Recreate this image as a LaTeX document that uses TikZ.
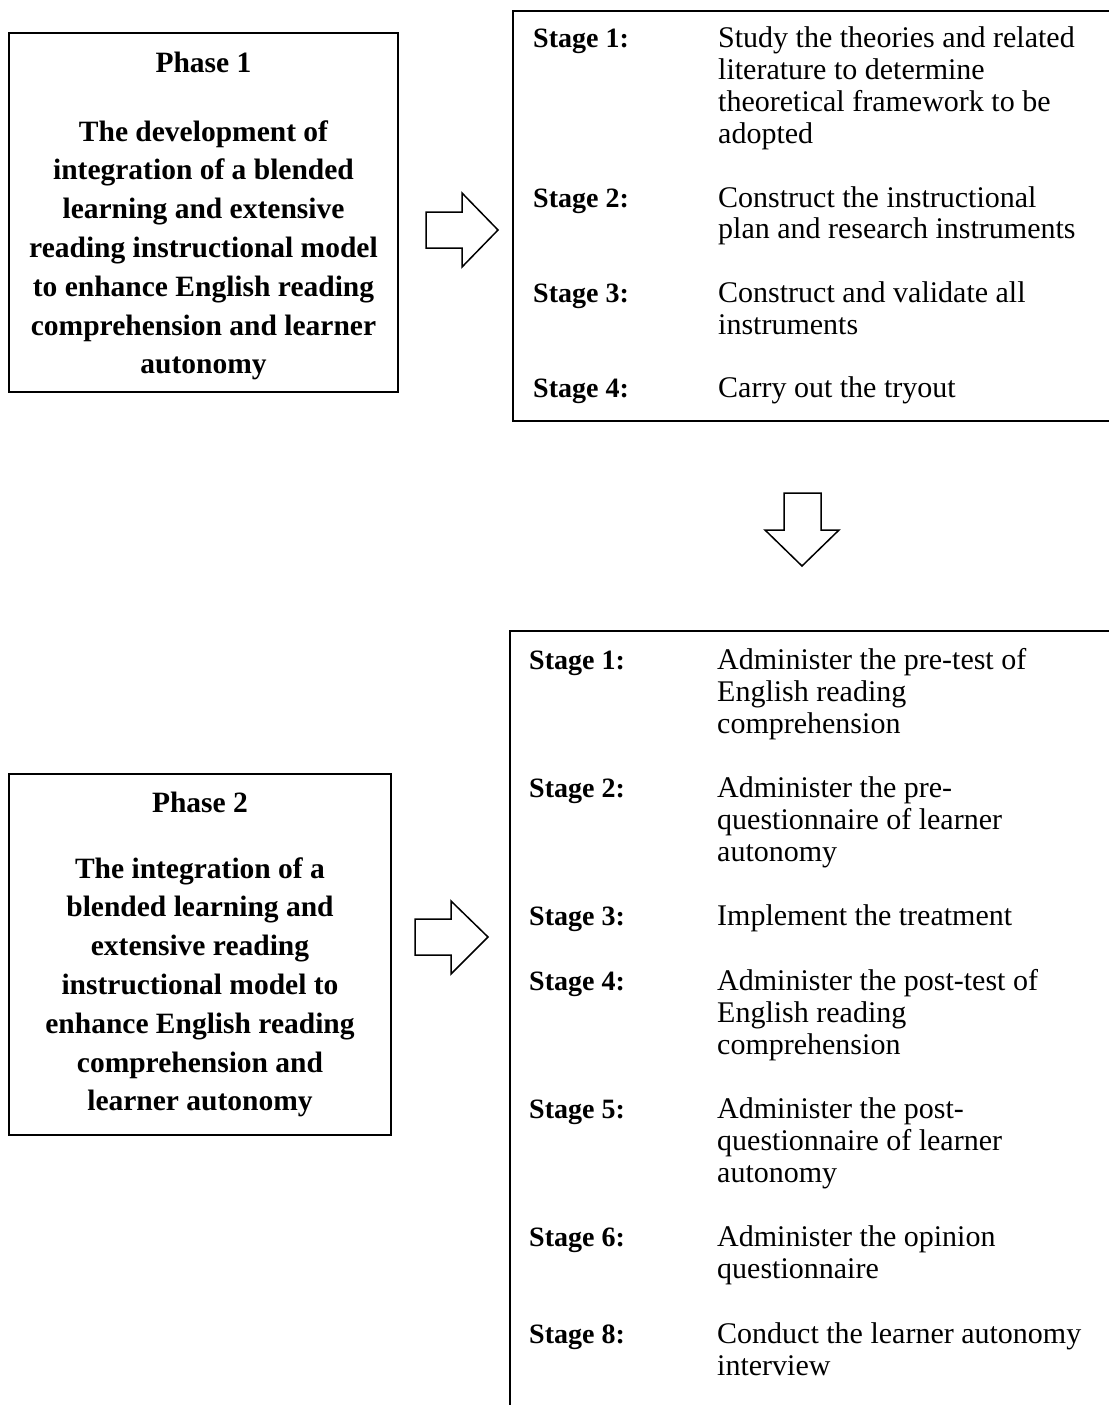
\documentclass[tikz,border=0pt]{standalone}
\usepackage{fontspec}
\setmainfont{Liberation Serif}
\tikzset{
  boxline/.style={draw=black, line width=2pt},
  arrowshape/.style={draw=black, line width=1.5pt, fill=white, line join=miter},
  phasetitle/.style={inner sep=0pt, anchor=base, font=\fontsize{29.5}{38.8}\selectfont\bfseries},
  phasebody/.style={inner sep=0pt, anchor=base},
  stagelabel/.style={inner sep=0pt, anchor=base west, font=\fontsize{28}{32}\selectfont\bfseries},
  stagedesc/.style={inner sep=0pt, anchor=base west},
}
\newcommand{\phbody}[1]{\parbox[t]{380pt}{\centering\fontsize{29.5}{38.8}\selectfont\bfseries #1}}
\newcommand{\stdescA}[1]{\parbox[t]{390pt}{\raggedright\fontsize{30}{31.8}\selectfont #1}}
\newcommand{\stdescB}[1]{\parbox[t]{390pt}{\raggedright\fontsize{30}{32.1}\selectfont #1}}
\begin{document}
\begin{tikzpicture}[x=1pt,y=-1pt]
\fill[white] (0,0) rectangle (1108,1405);
\useasboundingbox (0,0) rectangle (1108,1405);

% Phase 1 box
\node[boxline, minimum width=389pt, minimum height=359pt, inner sep=0pt] (p1box) at (203.5,212.5) {};
\node[phasetitle] (p1t) at (203.5,72) {Phase 1};
\node[phasebody] (p1b) at (203.5,141) {\phbody{The development of\\integration of a blended\\learning and extensive\\reading instructional model\\to enhance English reading\\comprehension and learner\\autonomy}};

% Phase 2 box
\node[boxline, minimum width=382pt, minimum height=361pt, inner sep=0pt] (p2box) at (200,954.5) {};
\node[phasetitle] (p2t) at (200,812) {Phase 2};
\node[phasebody] (p2b) at (200,878) {\phbody{The integration of a\\blended learning and\\extensive reading\\instructional model to\\enhance English reading\\comprehension and\\learner autonomy}};

% Top stage box (open on the right)
\coordinate (tbTL) at (513,11);
\coordinate (tbBL) at (513,421);
\draw[boxline] (1120,11) -- (tbTL) -- (tbBL) -- (1120,421);

\node[stagelabel] (a1) at (533,48) {Stage 1:};
\node[stagedesc] (a1d) at (718,48) {\stdescA{Study the theories and related\\literature to determine\\theoretical framework to be\\adopted}};
\node[stagelabel] (a2) at (533,207) {Stage 2:};
\node[stagedesc] (a2d) at (718,207) {\stdescA{Construct the instructional\\plan and research instruments}};
\node[stagelabel] (a3) at (533,302.4) {Stage 3:};
\node[stagedesc] (a3d) at (718,302.4) {\stdescA{Construct and validate all\\instruments}};
\node[stagelabel] (a4) at (533,397.8) {Stage 4:};
\node[stagedesc] (a4d) at (718,397.8) {\stdescA{Carry out the tryout}};

% Bottom stage box (open on the right and bottom)
\coordinate (bbTL) at (510,631);
\draw[boxline] (1120,631) -- (bbTL) -- (510,1420);

\node[stagelabel] (b1) at (529,669) {Stage 1:};
\node[stagedesc] (b1d) at (717,669) {\stdescB{Administer the pre-test of\\English reading\\comprehension}};
\node[stagelabel] (b2) at (529,797.4) {Stage 2:};
\node[stagedesc] (b2d) at (717,797.4) {\stdescB{Administer the pre-\\questionnaire of learner\\autonomy}};
\node[stagelabel] (b3) at (529,925.8) {Stage 3:};
\node[stagedesc] (b3d) at (717,925.8) {\stdescB{Implement the treatment}};
\node[stagelabel] (b4) at (529,990) {Stage 4:};
\node[stagedesc] (b4d) at (717,990) {\stdescB{Administer the post-test of\\English reading\\comprehension}};
\node[stagelabel] (b5) at (529,1118.4) {Stage 5:};
\node[stagedesc] (b5d) at (717,1118.4) {\stdescB{Administer the post-\\questionnaire of learner\\autonomy}};
\node[stagelabel] (b6) at (529,1246.8) {Stage 6:};
\node[stagedesc] (b6d) at (717,1246.8) {\stdescB{Administer the opinion\\questionnaire}};
\node[stagelabel] (b8) at (529,1343.1) {Stage 8:};
\node[stagedesc] (b8d) at (717,1343.1) {\stdescB{Conduct the learner autonomy\\interview}};

% Block arrows
\draw[arrowshape] (426,212) -- (462,212) -- (462,193) -- (498,230) -- (462,267) -- (462,248) -- (426,248) -- cycle;
\draw[arrowshape] (415,919) -- (451,919) -- (451,901) -- (488,937) -- (451,974) -- (451,955) -- (415,955) -- cycle;
\draw[arrowshape] (784,493) -- (821,493) -- (821,530) -- (839,530) -- (802,566) -- (765,530) -- (784,530) -- cycle;
\end{tikzpicture}
\end{document}
